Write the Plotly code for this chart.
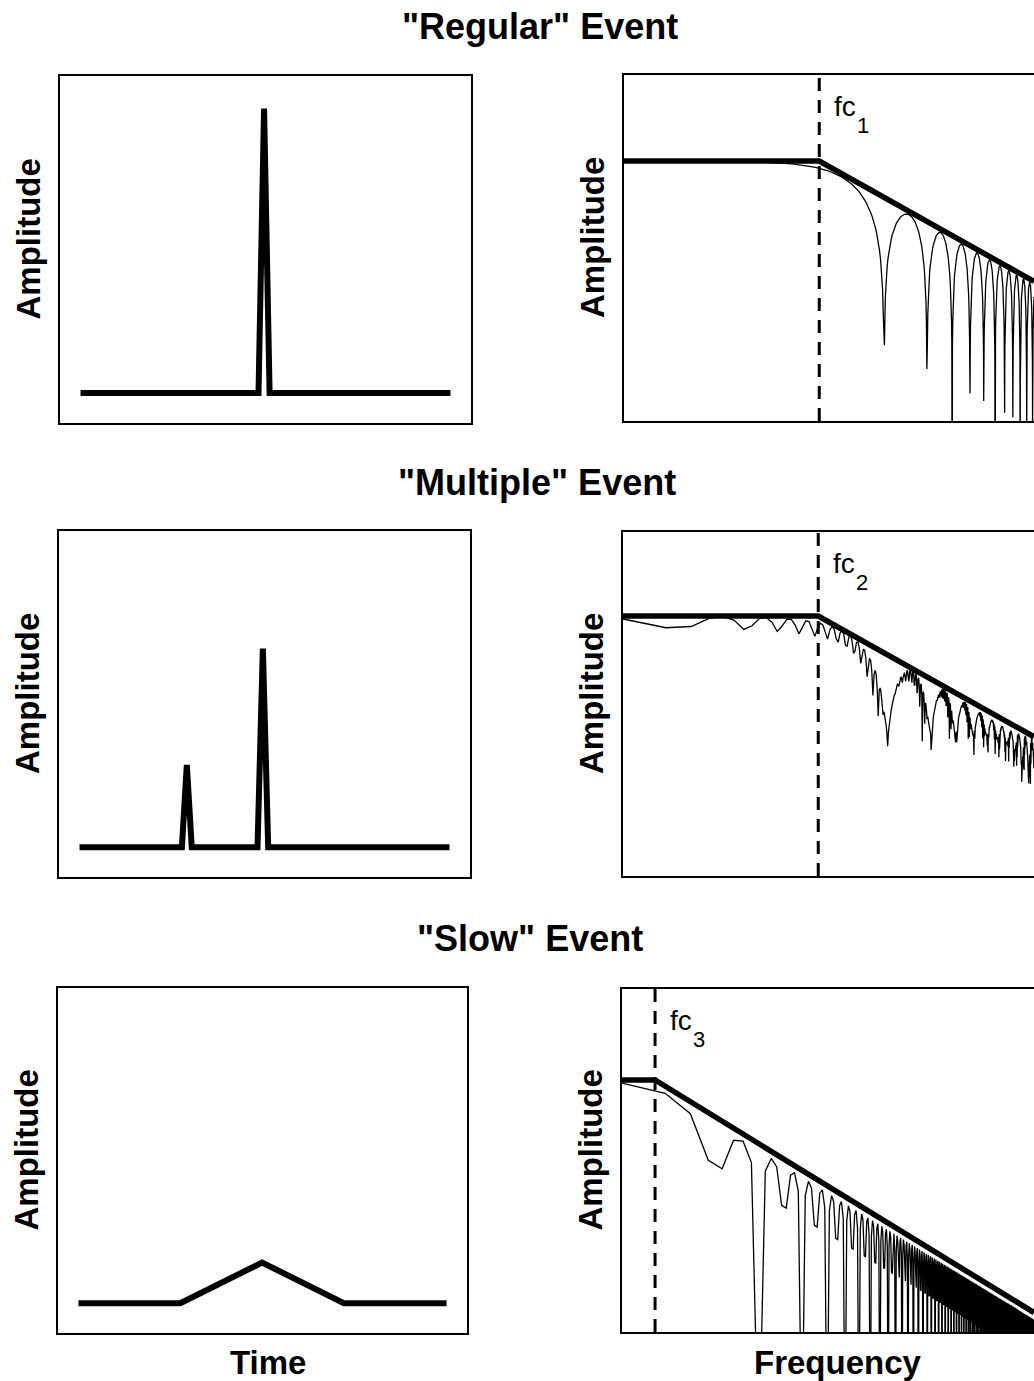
import numpy as np
import plotly.graph_objects as go

W, H = 1034, 1381

# Source time functions: corner points (time, amplitude)
regular_t = [5.0, 48.3, 49.65, 51.0, 95.0]
regular_a = [0.0, 0.0, 1.0, 0.0, 0.0]
multiple_t = [5.0, 29.9, 31.1, 32.3, 48.3, 49.6, 50.9, 95.0]
multiple_a = [0.0, 0.0, 0.29, 0.0, 0.0, 0.70, 0.0, 0.0]
slow_t = [5.0, 29.9, 49.9, 69.9, 95.0]
slow_a = [0.0, 0.0, 0.144, 0.0, 0.0]

# Corner frequencies marked on the spectra
corner_freq = [0.26, 0.258, 0.0189]
corner_sub = ["1", "2", "3"]
event_titles = ['"Regular" Event', '"Multiple" Event', '"Slow" Event']

# Frequency sampling of the spectra: record length and sample interval
record_len = 90.0
dt = 0.06

events = [(regular_t, regular_a), (multiple_t, multiple_a), (slow_t, slow_a)]

# Panel boxes in pixels: (left, right, top, bottom)
left_boxes = [(60, 471, 76, 423), (59, 470, 531, 877), (58, 467, 988, 1333)]
right_boxes = [(624, 1034, 75, 421), (623, 1034, 532, 876), (622, 1034, 989, 1332)]
# decades shown above / below the flat spectral level
spec_span = [(2.15, 6.5), (2.1, 6.5), (2.07, 5.73)]
amp_range = [-0.105, 1.114]

FONT = "Liberation Sans, Arial, Helvetica, sans-serif"


def px_x(v):
    return v / W


def px_y(v):
    return 1 - v / H


def spectrum(tk, ak):
    """Amplitude spectrum of a piecewise-linear pulse at the record's frequencies."""
    tk = np.asarray(tk, float)
    ak = np.asarray(ak, float)
    slopes = np.diff(ak) / np.diff(tk)
    kinks = np.diff(np.concatenate([[0.0], slopes, [0.0]]))
    df = 1.0 / record_len
    n_hi = int(round(0.5 / dt / df))
    f = np.arange(1, n_hi + 1) * df
    w = 2 * np.pi * f
    X = -(np.exp(-1j * np.outer(w, tk)) @ kinks) / w ** 2
    A0 = np.trapezoid(ak, tk)
    return f, np.abs(X), A0


fig = go.Figure()
layout = {}
annotations = []

for i, (tk, ak) in enumerate(events):
    lx = 2 * i + 1
    rx = 2 * i + 2
    lname = "" if lx == 1 else str(lx)
    rname = str(rx)

    # time-domain panel
    fig.add_trace(go.Scatter(
        x=tk, y=ak, mode="lines",
        line=dict(color="black", width=6),
        xaxis="x" + lname, yaxis="y" + lname, showlegend=False,
        hoverinfo="skip"))
    l, r, t, b = left_boxes[i]
    common = dict(showgrid=False, zeroline=False, showticklabels=False,
                  ticks="", showline=True, linecolor="black", linewidth=1.5)
    layout["xaxis" + lname] = dict(domain=[px_x(l), px_x(r)], range=[0, 100],
                                   anchor="y" + lname, mirror=True, **common)
    layout["yaxis" + lname] = dict(domain=[px_y(b), px_y(t)], range=amp_range,
                                   anchor="x" + lname, mirror=True, **common)

    # frequency-domain panel
    f, A, A0 = spectrum(tk, ak)
    fc = corner_freq[i]
    up, down = spec_span[i]
    ylo, yhi = np.log10(A0) - down, np.log10(A0) + up
    A = np.maximum(A, 10 ** (ylo - 3))

    fig.add_trace(go.Scatter(
        x=f, y=A, mode="lines", line=dict(color="black", width=1.3),
        xaxis="x" + rname, yaxis="y" + rname, showlegend=False,
        hoverinfo="skip"))
    f_model = [f[0], fc, f[-1]]
    a_model = [A0, A0, A0 * (fc / f[-1]) ** 2]
    fig.add_trace(go.Scatter(
        x=f_model, y=a_model, mode="lines", line=dict(color="black", width=5.5),
        xaxis="x" + rname, yaxis="y" + rname, showlegend=False,
        hoverinfo="skip"))
    fig.add_trace(go.Scatter(
        x=[fc, fc], y=[10 ** ylo, 10 ** yhi], mode="lines",
        line=dict(color="black", width=3, dash="13px,9px"),
        xaxis="x" + rname, yaxis="y" + rname, showlegend=False,
        hoverinfo="skip"))

    l, r, t, b = right_boxes[i]
    layout["xaxis" + rname] = dict(domain=[px_x(l), px_x(r)], type="log",
                                   range=[np.log10(f[0]), np.log10(f[-1])],
                                   anchor="y" + rname, mirror=True, **common)
    layout["yaxis" + rname] = dict(domain=[px_y(b), px_y(t)], type="log",
                                   range=[ylo, yhi],
                                   anchor="x" + rname, mirror=False, **common)

    # corner frequency label
    x_fc = l + (np.log10(fc) - np.log10(f[0])) / (np.log10(f[-1]) - np.log10(f[0])) * (r - l)
    y_fc = t + 49
    annotations.append(dict(
        text="fc", x=px_x(x_fc + 13), y=px_y(y_fc), xref="paper", yref="paper",
        xanchor="left", yanchor="bottom", showarrow=False,
        font=dict(family=FONT, size=28, color="black")))
    annotations.append(dict(
        text=corner_sub[i], x=px_x(x_fc + 36), y=px_y(y_fc + 16), xref="paper",
        yref="paper", xanchor="left", yanchor="bottom", showarrow=False,
        font=dict(family=FONT, size=22, color="black")))

    # y-axis titles
    for box in (left_boxes[i], right_boxes[i]):
        annotations.append(dict(
            text="<b>Amplitude</b>", x=px_x(box[0] - 32),
            y=px_y((box[2] + box[3]) / 2 - 10), xref="paper", yref="paper",
            xanchor="center", yanchor="middle", textangle=-90, showarrow=False,
            font=dict(family=FONT, size=33, color="black")))

# event titles
title_pos = [(540, 27), (537, 483), (530, 938)]
for txt, (x, y) in zip(event_titles, title_pos):
    annotations.append(dict(
        text="<b>" + txt + "</b>", x=px_x(x), y=px_y(y), xref="paper",
        yref="paper", xanchor="center", yanchor="middle", showarrow=False,
        font=dict(family=FONT, size=36, color="black")))

# x-axis titles
for txt, x in (("Time", 268), ("Frequency", 838)):
    annotations.append(dict(
        text="<b>" + txt + "</b>", x=px_x(x), y=px_y(1362), xref="paper",
        yref="paper", xanchor="center", yanchor="middle", showarrow=False,
        font=dict(family=FONT, size=33, color="black")))

fig.update_layout(
    width=W, height=H, margin=dict(l=0, r=0, t=0, b=0),
    paper_bgcolor="white", plot_bgcolor="white",
    annotations=annotations, **layout)

fig.write_html("out.html")
